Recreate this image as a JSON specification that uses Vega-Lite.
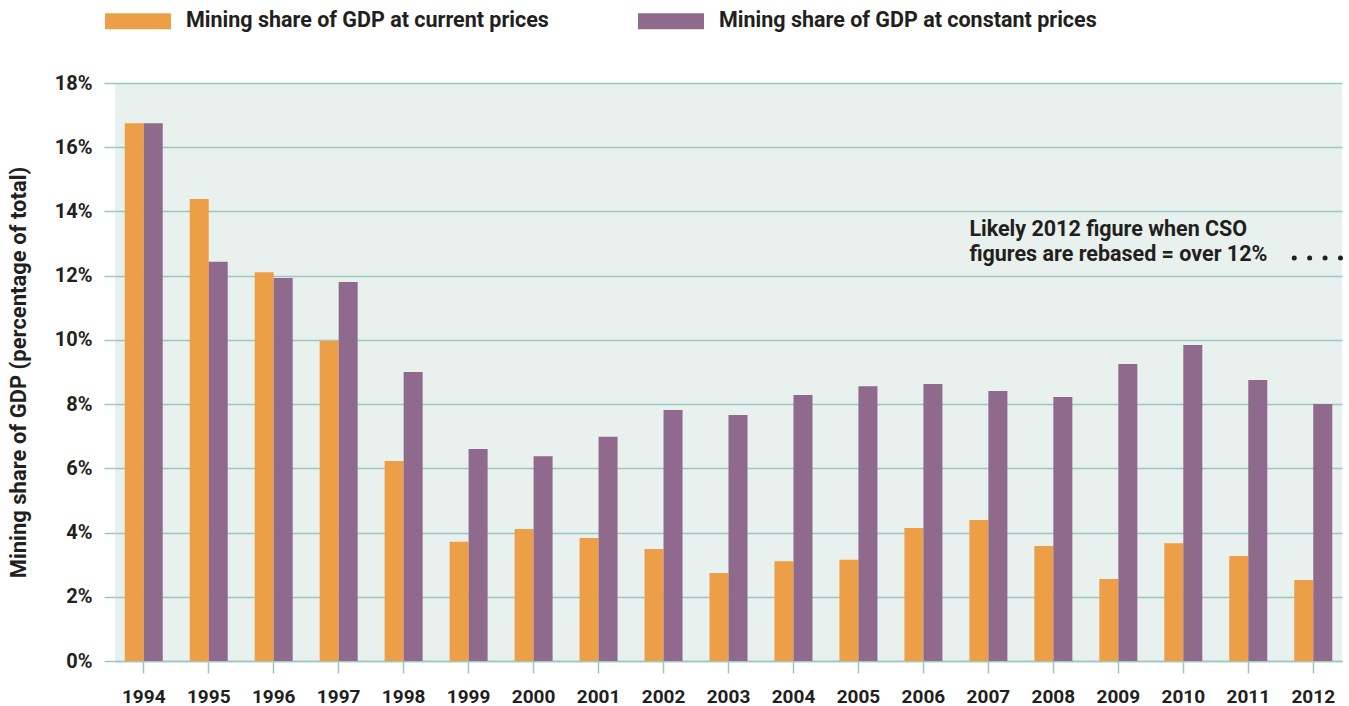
{
  "$schema": "https://vega.github.io/schema/vega-lite/v6.json",
  "width": 1227,
  "height": 578,
  "autosize": {"type": "none"},
  "padding": {"left": 115, "top": 83, "right": 7, "bottom": 45},
  "background": "white",
  "config": {
    "font": "Roboto",
    "view": {"fill": "#e8f1ee", "stroke": null}
  },
  "layer": [
    {
      "data": {
        "values": [
          {"year": "1994", "series": "Mining share of GDP at current prices", "value": 16.75},
          {"year": "1994", "series": "Mining share of GDP at constant prices", "value": 16.75},
          {"year": "1995", "series": "Mining share of GDP at current prices", "value": 14.39},
          {"year": "1995", "series": "Mining share of GDP at constant prices", "value": 12.43},
          {"year": "1996", "series": "Mining share of GDP at current prices", "value": 12.11},
          {"year": "1996", "series": "Mining share of GDP at constant prices", "value": 11.93},
          {"year": "1997", "series": "Mining share of GDP at current prices", "value": 9.97},
          {"year": "1997", "series": "Mining share of GDP at constant prices", "value": 11.8},
          {"year": "1998", "series": "Mining share of GDP at current prices", "value": 6.23},
          {"year": "1998", "series": "Mining share of GDP at constant prices", "value": 9.0},
          {"year": "1999", "series": "Mining share of GDP at current prices", "value": 3.71},
          {"year": "1999", "series": "Mining share of GDP at constant prices", "value": 6.6},
          {"year": "2000", "series": "Mining share of GDP at current prices", "value": 4.11},
          {"year": "2000", "series": "Mining share of GDP at constant prices", "value": 6.38},
          {"year": "2001", "series": "Mining share of GDP at current prices", "value": 3.83},
          {"year": "2001", "series": "Mining share of GDP at constant prices", "value": 6.98},
          {"year": "2002", "series": "Mining share of GDP at current prices", "value": 3.49},
          {"year": "2002", "series": "Mining share of GDP at constant prices", "value": 7.82},
          {"year": "2003", "series": "Mining share of GDP at current prices", "value": 2.74},
          {"year": "2003", "series": "Mining share of GDP at constant prices", "value": 7.66},
          {"year": "2004", "series": "Mining share of GDP at current prices", "value": 3.11},
          {"year": "2004", "series": "Mining share of GDP at constant prices", "value": 8.28},
          {"year": "2005", "series": "Mining share of GDP at current prices", "value": 3.15},
          {"year": "2005", "series": "Mining share of GDP at constant prices", "value": 8.56},
          {"year": "2006", "series": "Mining share of GDP at current prices", "value": 4.14},
          {"year": "2006", "series": "Mining share of GDP at constant prices", "value": 8.63},
          {"year": "2007", "series": "Mining share of GDP at current prices", "value": 4.39},
          {"year": "2007", "series": "Mining share of GDP at constant prices", "value": 8.41},
          {"year": "2008", "series": "Mining share of GDP at current prices", "value": 3.58},
          {"year": "2008", "series": "Mining share of GDP at constant prices", "value": 8.22},
          {"year": "2009", "series": "Mining share of GDP at current prices", "value": 2.55},
          {"year": "2009", "series": "Mining share of GDP at constant prices", "value": 9.25},
          {"year": "2010", "series": "Mining share of GDP at current prices", "value": 3.67},
          {"year": "2010", "series": "Mining share of GDP at constant prices", "value": 9.84},
          {"year": "2011", "series": "Mining share of GDP at current prices", "value": 3.27},
          {"year": "2011", "series": "Mining share of GDP at constant prices", "value": 8.75},
          {"year": "2012", "series": "Mining share of GDP at current prices", "value": 2.52},
          {"year": "2012", "series": "Mining share of GDP at constant prices", "value": 8.0}
        ]
      },
      "mark": {"type": "bar"},
      "encoding": {
        "x": {
          "field": "year",
          "type": "nominal",
          "scale": {"paddingInner": 0.415, "paddingOuter": 0.15},
          "axis": {
            "title": null,
            "labelAngle": 0,
            "labelFont": "Roboto",
            "labelFontWeight": "bold",
            "labelFontSize": 19,
            "labelColor": "#231f20",
            "labelPadding": 14,
            "tickSize": 12,
            "tickWidth": 1.5,
            "tickColor": "#9cc8c0",
            "domainColor": "#9cc8c0",
            "domainWidth": 1.5,
            "grid": false
          }
        },
        "xOffset": {
          "field": "series",
          "sort": ["Mining share of GDP at current prices", "Mining share of GDP at constant prices"]
        },
        "y": {
          "field": "value",
          "type": "quantitative",
          "scale": {"domain": [0, 18], "nice": false},
          "axis": {
            "title": "Mining share of GDP (percentage of total)",
            "titleFont": "Roboto",
            "titleFontWeight": "bold",
            "titleFontSize": 22,
            "titleColor": "#231f20",
            "titleX": -97,
            "titleY": 289,
            "titleAlign": "center",
            "titleBaseline": "middle",
            "titleAngle": -90,
            "values": [0, 2, 4, 6, 8, 10, 12, 14, 16, 18],
            "labelExpr": "datum.value + '%'",
            "labelFont": "Roboto",
            "labelFontWeight": "bold",
            "labelFontSize": 20,
            "labelColor": "#231f20",
            "labelPadding": 12,
            "tickSize": 11,
            "tickWidth": 1.5,
            "tickColor": "#9cc8c0",
            "domain": false,
            "grid": true,
            "gridColor": "#9cc8c0",
            "gridWidth": 1.5
          }
        },
        "color": {
          "field": "series",
          "type": "nominal",
          "scale": {
            "domain": ["Mining share of GDP at current prices", "Mining share of GDP at constant prices"],
            "range": ["#ed9f48", "#8f6a8c"]
          },
          "legend": {
            "title": null,
            "orient": "none",
            "legendX": -10,
            "legendY": -95,
            "direction": "horizontal",
            "symbolType": "M-1,-0.2424H1V0.2424H-1Z",
            "symbolSize": 4356,
            "symbolStrokeWidth": 0,
            "symbolOpacity": 1,
            "labelFont": "Roboto",
            "labelFontWeight": "bold",
            "labelFontSize": 21.5,
            "labelColor": "#231f20",
            "labelOffset": 15,
            "labelLimit": 600,
            "columnPadding": 89,
            "padding": 0
          }
        }
      }
    },
    {
      "data": {"values": [{"label": ["Likely 2012 figure when CSO", "figures are rebased = over 12%"]}]},
      "mark": {
        "type": "text",
        "align": "left",
        "baseline": "alphabetic",
        "font": "Roboto",
        "fontWeight": "bold",
        "fontSize": 21.5,
        "lineHeight": 25,
        "color": "#231f20"
      },
      "encoding": {
        "x": {"datum": "2007", "bandPosition": 0},
        "y": {"datum": 13.24},
        "text": {"field": "label"}
      }
    },
    {
      "data": {"values": [{"note": "dots"}]},
      "mark": {
        "type": "rule",
        "color": "#231f20",
        "strokeWidth": 5,
        "strokeCap": "round",
        "strokeDash": [0.01, 15.4],
        "x2Offset": 9
      },
      "encoding": {
        "x": {"datum": "2012", "bandPosition": 0},
        "x2": {"datum": "2012", "bandPosition": 1},
        "y": {"datum": 12.55}
      }
    }
  ]
}
